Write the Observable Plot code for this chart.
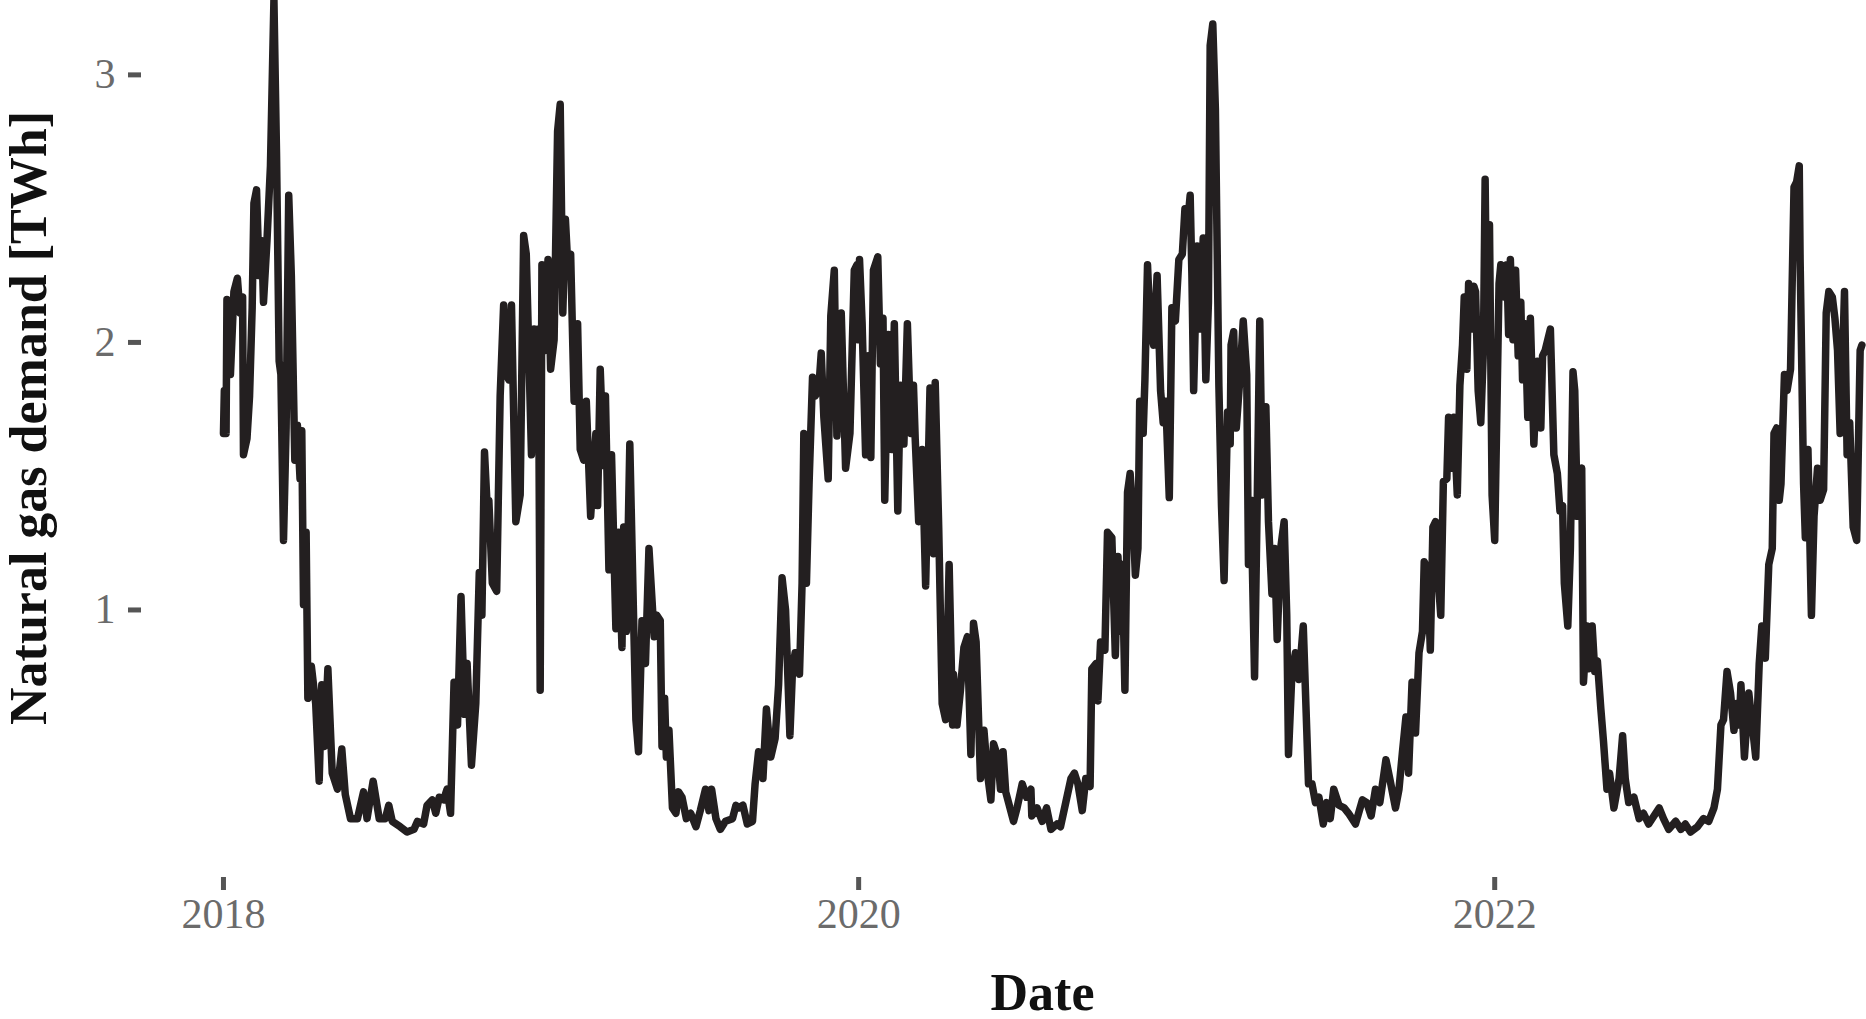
<!DOCTYPE html>
<html><head><meta charset="utf-8">
<script src="https://cdn.jsdelivr.net/npm/d3@7"></script>
<script src="https://cdn.jsdelivr.net/npm/@observablehq/plot@0.6"></script>
<style>
html,body{margin:0;padding:0;background:#fff;}
#chart{width:1866px;height:1019px;overflow:hidden;}
</style></head><body><div id="chart"></div>
<script>
const startDate = "2018-01-01";
const dayOffset = [
0,1,2,3,4,8,12,16,19,22,23,27,30,33,35,38,41,44,46,50,54,58,61,64,66,69,72,75,78,82,85,88,90,92,95,97,101,106,110,113,116,120,125,131,136,140,146,154,161,165,172,179,186,190,194,203,211,219,223,230,234,240,244,248,253,257,261,265,269,273,277,280,285,290,294,297,300,303,305,309,314,318,322,325,328,331,336,341,345,348,354,357,361,362,364,366,370,373,376,380,384,387,390,393,396,399,403,407,410,414,417,422,428,430,433,437,439,443,446,451,454,458,460,463,467,471,474,477,481,485,489,
495,498,502,504,507,509,512,516,520,523,527,532,537,543,548,554,558,561,566,571,577,585,589,592,597,602,608,611,615,620,624,629,634,638,642,646,651,654,657,662,665,667,670,673,677,680,684,687,690,695,698,702,705,710,715,720,725,728,729,731,734,738,741,744,747,752,755,758,760,764,768,771,775,778,782,786,790,793,795,799,803,807,812,816,818,822,826,830,834,838,839,843,847,851,855,859,862,865,870,874,878,882,885,890,
893,896,899,908,912,918,923,928,929,935,941,946,951,958,962,968,974,978,982,987,991,996,998,1003,1005,1008,1013,1016,1021,1025,1028,1031,1033,1036,1039,1042,1045,1048,1051,1053,1057,1059,1062,1065,1069,1073,1077,1080,1083,1087,1090,1094,1098,1102,1105,1108,1111,1113,1115,1119,1122,1126,1129,1132,1134,1137,1140,1144,1147,1150,1154,1157,1158,1161,1164,1168,1172,1176,1178,1181,1185,1188,1191,1194,1198,1201,1205,1208,1211,1215,1219,1222,1224,1228,1232,1236,1241,1245,1247,1251,1255,1259,1264,1268,1272,1276,1282,1288,1293,1301,1309,1314,1319,1324,1329,1336,1341,1347,1351,1355,1359,1362,1366,1370,1374,
1378,1380,1384,1387,1390,1393,1396,1399,1402,1406,1408,1411,1414,1418,1421,1424,1426,1429,1431,1434,1437,1439,1442,1445,1448,1450,1452,1455,1458,1461,1464,1466,1468,1472,1475,1477,1479,1482,1485,1488,1491,1493,1496,1499,1502,1506,1510,1514,1516,1519,1525,1529,1533,1536,1539,1541,1545,1548,1551,1553,1556,1559,1561,1563,1567,1569,1573,1576,1579,1583,1586,1590,1593,1598,1604,1608,1611,1615,1621,1627,1632,1638,1644,1650,1655,1661,1669,1675,1680,1686,1694,1701,1707,1713,1717,1721,1724,1728,1732,1736,1739,1742,1744,1748,1753,1757,1761,1765,1768,1772,1776,1780,1782,1785,1788,1790,1794,1797,1801,1805,1808,1811,1812,1816,1818,1821,1825,1828,1832,1835,1839,1842,1845,1849,1852,1855,1858,1860,1863,1866,1869,1873,1877,1881,1883
];
const demand = [
1.66,1.82,1.82,1.66,2.16,1.88,2.19,2.24,2.11,2.17,1.58,1.64,1.80,2.13,2.52,2.57,2.25,2.38,2.15,2.38,2.66,3.28,2.70,1.93,1.88,1.26,1.68,2.55,2.25,1.56,1.69,1.49,1.67,1.02,1.29,0.67,0.79,0.65,0.36,0.72,0.49,0.78,0.39,0.33,0.48,0.31,0.22,0.22,0.32,0.22,0.36,0.22,0.22,0.27,0.21,0.19,0.17,0.18,0.21,0.20,0.27,0.29,0.24,0.30,0.29,0.33,0.24,0.73,0.57,1.05,0.61,0.80,0.42,0.65,1.14,0.98,1.59,1.39,1.41,1.10,1.07,1.80,2.14,1.88,1.86,2.14,1.33,1.43,2.40,2.33,1.58,2.05,1.78,2.05,0.70,2.29,1.97,2.31,1.90,2.01,2.79,2.89,2.11,2.46,2.27,2.33,1.78,2.07,1.60,1.56,1.78,1.35,1.66,1.39,1.90,1.54,1.80,1.15,1.58,0.93,1.29,0.86,1.31,0.92,1.62,1.02,0.59,0.47,0.96,0.80,1.23,
0.90,0.98,0.96,0.49,0.67,0.45,0.55,0.26,0.24,0.32,0.30,0.22,0.24,0.19,0.25,0.33,0.25,0.33,0.22,0.18,0.21,0.22,0.27,0.26,0.27,0.20,0.21,0.35,0.47,0.37,0.63,0.45,0.52,0.72,1.12,1.00,0.53,0.78,0.84,0.76,1.10,1.66,1.10,1.47,1.87,1.80,1.82,1.96,1.72,1.49,2.10,2.27,1.65,2.11,1.53,1.66,2.27,2.29,2.01,2.31,2.07,1.58,1.95,1.57,2.27,2.32,1.92,2.09,1.41,2.03,1.60,2.07,1.37,1.84,1.62,2.07,1.66,1.84,1.64,1.33,1.60,1.09,1.83,1.21,1.85,1.31,0.65,0.59,1.17,0.57,0.76,0.57,0.70,0.86,0.90,0.46,0.95,0.88,0.37,0.55,0.39,0.29,0.50,0.45,
0.33,0.47,0.32,0.21,0.26,0.35,0.30,0.33,0.23,0.26,0.21,0.26,0.18,0.20,0.19,0.28,0.37,0.39,0.35,0.25,0.37,0.34,0.78,0.80,0.66,0.88,0.85,1.29,1.27,0.83,1.20,0.92,1.17,0.70,1.44,1.51,1.37,1.13,1.23,1.78,1.66,1.86,2.29,2.05,1.99,2.25,1.82,1.70,1.78,1.42,2.13,2.08,2.31,2.33,2.50,2.44,2.55,2.25,1.82,2.36,2.05,2.39,1.86,2.15,3.11,3.19,2.87,1.84,1.39,1.11,1.74,1.62,1.99,2.04,1.68,1.86,2.08,1.88,1.17,1.41,0.75,1.39,2.08,1.43,1.76,1.33,1.06,1.23,0.89,1.23,1.33,0.98,0.46,0.77,0.84,0.74,0.94,0.55,0.35,0.35,0.28,0.30,0.20,0.28,0.22,0.33,0.27,0.26,0.24,0.20,0.29,0.28,0.23,0.33,0.28,0.44,0.36,0.26,0.33,0.47,0.60,0.39,0.73,0.54,0.84,
0.92,1.18,1.15,0.85,1.31,1.33,1.12,0.98,1.48,1.49,1.72,1.53,1.72,1.43,1.84,1.99,2.17,1.90,2.22,2.05,2.21,2.19,1.82,1.70,1.97,2.61,2.01,2.44,1.43,1.26,1.84,2.22,2.29,2.17,2.29,2.03,2.31,2.01,2.27,1.95,2.15,1.86,2.07,1.72,2.09,1.62,1.93,1.68,1.95,1.97,2.05,1.58,1.51,1.37,1.39,1.10,0.94,1.23,1.89,1.82,1.35,1.51,1.53,0.73,0.94,0.78,0.94,0.77,0.81,0.63,0.51,0.33,0.39,0.26,0.37,0.53,0.37,0.28,0.30,0.22,0.24,0.20,0.23,0.26,0.22,0.18,0.21,0.18,0.20,0.17,0.19,0.22,0.21,0.26,0.33,0.57,0.59,0.77,0.69,0.55,0.65,0.57,0.72,0.45,0.69,0.57,0.45,0.80,0.94,0.82,1.17,1.23,1.66,1.68,1.41,1.47,1.88,1.82,1.90,2.58,2.60,2.66,2.31,1.47,1.27,1.60,0.98,1.35,1.53,1.41,1.45,2.11,2.19,2.17,2.09,1.97,1.66,1.84,2.19,1.58,1.70,1.31,1.26,1.97,1.99
];
const yearTicks = ["2018-01-01", "2020-01-01", "2022-01-01"];
const demandTicks = [1, 2, 3];
const xLabel = "Date";
const yLabel = "Natural gas demand [TWh]";

const dayMs = 864e5;
const base = new Date(startDate + "T00:00:00Z");
const series = dayOffset.map((d, i) => ({date: new Date(base.getTime() + d * dayMs), value: demand[i]}));
const tickDates = yearTicks.map(s => new Date(s + "T00:00:00Z"));

const chart = Plot.plot({
  width: 1866,
  height: 1019,
  marginLeft: 141,
  marginRight: 0,
  marginTop: 0,
  marginBottom: 142,
  style: {fontFamily: '"Liberation Serif","Times New Roman",serif', fontSize: "42px", background: "#fff", color: "#6b6b6b", overflow: "visible"},
  x: {type: "utc", domain: [new Date(base.getTime() - 94.2 * dayMs), new Date(base.getTime() + 1888.3 * dayMs)]},
  y: {domain: [0, 3.278]},
  marks: [
    Plot.axisY(demandTicks, {tickSize: 13, tickPadding: 13, strokeWidth: 5, label: null, tickFormat: d => String(d), fill: "#6b6b6b", stroke: "#555555", fontSize: 42}),
    Plot.axisX(tickDates, {tickSize: 13, tickPadding: 8, strokeWidth: 5, tickFormat: "%Y", label: null, fill: "#6b6b6b", stroke: "#555555", fontSize: 42}),
    Plot.line(series, {x: "date", y: "value", stroke: "#231F20", strokeWidth: 7.5, strokeLinejoin: "round", strokeLinecap: "round"}),
    Plot.text([yLabel], {frameAnchor: "left", textAnchor: "middle", dx: -112, dy: -21, rotate: -90, fontSize: 52, fontWeight: "bold", fill: "#111111"}),
    Plot.text([xLabel], {frameAnchor: "bottom", textAnchor: "middle", dx: 38.5, dy: 132, fontSize: 52, fontWeight: "bold", fill: "#111111"})
  ]
});
document.getElementById("chart").appendChild(chart);
</script>
</body></html>
